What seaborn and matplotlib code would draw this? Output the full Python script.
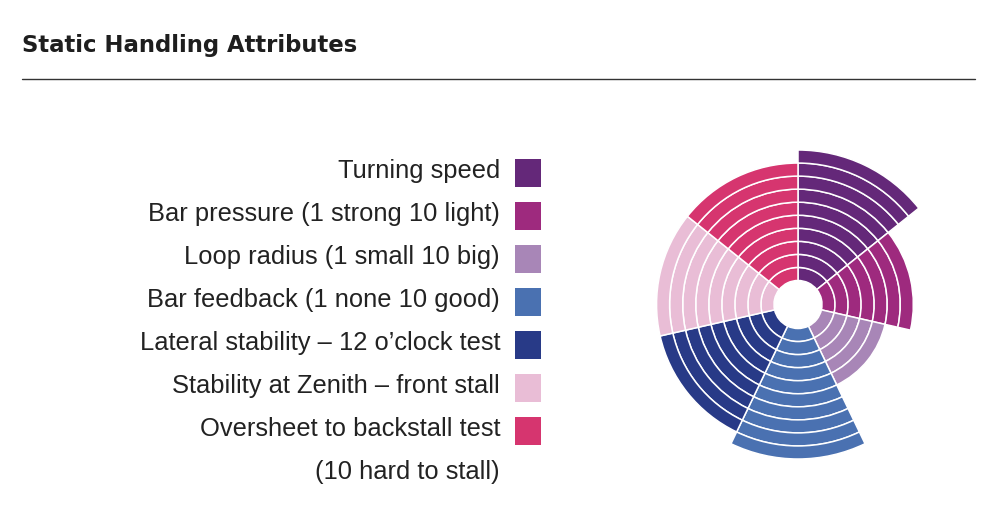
import numpy as np
import matplotlib
matplotlib.use("Agg")
import matplotlib.pyplot as plt
import seaborn as sns
from matplotlib.patches import Rectangle
from matplotlib.lines import Line2D

# ---- data ----
title = "Static Handling Attributes"
categories = [
    "Turning speed",
    "Bar pressure (1 strong 10 light)",
    "Loop radius (1 small 10 big)",
    "Bar feedback (1 none 10 good)",
    "Lateral stability \u2013 12 o\u2019clock test",
    "Stability at Zenith \u2013 front stall",
    "Oversheet to backstall test",
]
extra_label = "(10 hard to stall)"
values = [10, 7, 5, 10, 9, 9, 9]
colors = ["#642879", "#9e2a7e", "#a886b7", "#4a71b1", "#283a87", "#e9bdd6", "#d6356f"]

sns.set_theme(style="white")
plt.rcParams["font.family"] = ["Liberation Sans", "DejaVu Sans"]
palette = sns.color_palette(colors)

W, H = 992, 524
fig = plt.figure(figsize=(W / 100, H / 100), dpi=100)
fig.patch.set_facecolor("white")

# ---- polar chart ----
ring_px = 13.05
hole = 24 / ring_px
rmax = 12.0
R = rmax * ring_px
cx, cy = 798, 304.5
ax = fig.add_axes([(cx - R) / W, (H - cy - R) / H, 2 * R / W, 2 * R / H], projection="polar")
ax.set_theta_zero_location("N")
ax.set_theta_direction(-1)
n = len(categories)
width = 2 * np.pi / n
for i, (v, c) in enumerate(zip(values, palette)):
    theta = (i + 0.5) * width
    for j in range(v):
        ax.bar(theta, 1, width=width, bottom=hole + j, color=c,
               edgecolor="white", linewidth=1.1, align="center")
ax.set_ylim(0, rmax)
ax.set_xticks([])
ax.set_yticks([])
ax.grid(False)
ax.spines["polar"].set_visible(False)
ax.set_facecolor("none")

# ---- overlay for title, rule and legend (pixel coordinates) ----
ov = fig.add_axes([0, 0, 1, 1], zorder=-1)
ov.set_xlim(0, W)
ov.set_ylim(H, 0)
ov.axis("off")

ov.text(22, 52, title, fontsize=16.4, fontweight="bold", color="#1e1e1e",
        ha="left", va="baseline", family=["DejaVu Sans"])
ov.add_line(Line2D([22, 975], [79, 79], color="#333333", linewidth=1.0))

labels = categories + [extra_label]
for i, lab in enumerate(labels):
    base = 178 + 43 * i
    ov.text(500, base, lab, fontsize=18.4, color="#222222", ha="right", va="baseline")
    if i < n:
        ov.add_patch(Rectangle((515, base - 19), 26, 28, facecolor=palette[i],
                               edgecolor="none"))

fig.savefig("out.png", dpi=100, facecolor="white")
